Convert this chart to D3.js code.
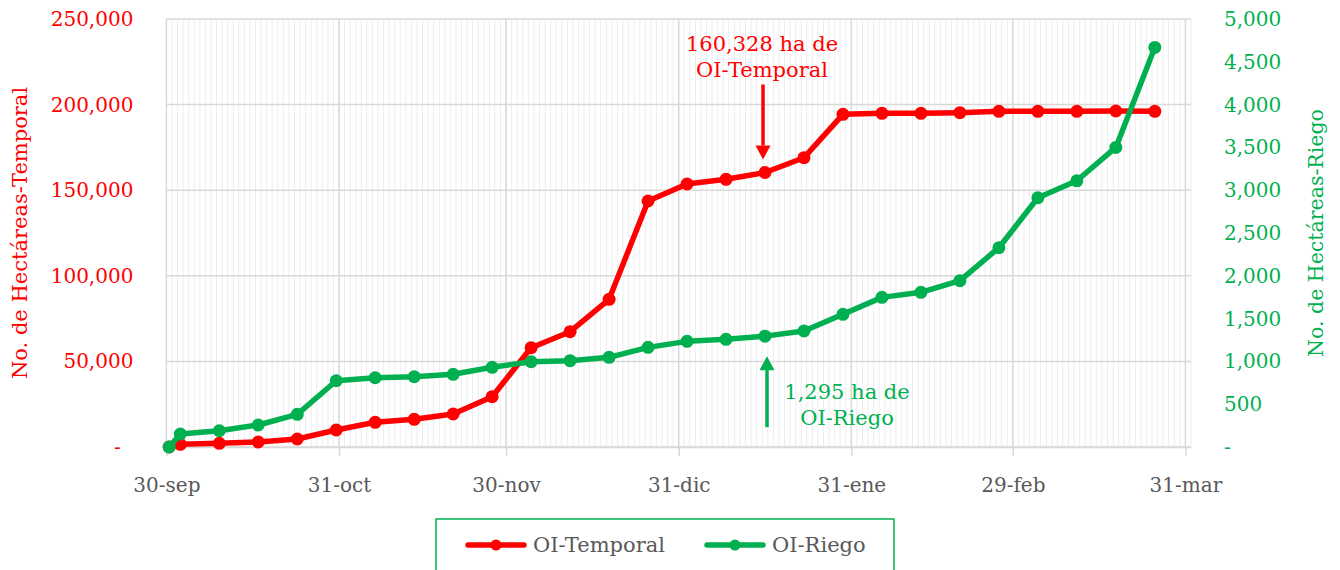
<!DOCTYPE html>
<html>
<head>
<meta charset="utf-8">
<script src="https://cdn.jsdelivr.net/npm/d3@7"></script>
<style>
  body { margin: 0; background: #fff; }
  svg { display: block; font-family: "DejaVu Serif", serif; }
</style>
</head>
<body>
<div id="chart"></div>
<script>
/*
    DATA
*/
let dates = ["2023-09-30", "2023-10-02", "2023-10-09", "2023-10-16", "2023-10-23", "2023-10-30",
    "2023-11-06", "2023-11-13", "2023-11-20", "2023-11-27", "2023-12-04", "2023-12-11",
    "2023-12-18", "2023-12-25", "2024-01-01", "2024-01-08", "2024-01-15", "2024-01-22",
    "2024-01-29", "2024-02-05", "2024-02-12", "2024-02-19", "2024-02-26", "2024-03-04",
    "2024-03-11", "2024-03-18", "2024-03-25"];
let temporal = [0, 1580, 2160, 2920, 4670, 9930, 14430, 16180, 19280, 29380, 58000, 67350,
    86270, 143690, 153620, 156360, 160328, 168980, 194330, 194910, 194910, 195260, 196070,
    196070, 196070, 196260, 196070];
let riego = [0, 152, 190, 257, 382, 774, 809, 821, 849, 931, 996, 1008, 1048, 1164, 1234,
    1258, 1295, 1355, 1550, 1748, 1807, 1943, 2328, 2912, 3110, 3500, 4668];

let tickDates = ["2023-09-30", "2023-10-31", "2023-11-30", "2023-12-31", "2024-01-31", "2024-02-29", "2024-03-31"];
let tickLabels = ["30-sep", "31-oct", "30-nov", "31-dic", "31-ene", "29-feb", "31-mar"];
let leftTicks = [0, 50000, 100000, 150000, 200000, 250000];
let rightTicks = [0, 500, 1000, 1500, 2000, 2500, 3000, 3500, 4000, 4500, 5000];

let seriesNames = ["OI-Temporal", "OI-Riego"];
let noteTemporal = ["160,328 ha de", "OI-Temporal"];
let noteRiego = ["1,295 ha de", "OI-Riego"];

/*
    CONSTANTS
*/
let SIZE = { width: 1340, height: 570 };
let PLOT = { left: 166.4, right: 1191, top: 19, bot: 447 };
let RED = "#ff0000";
let GREEN = "#00b050";
let GRID = "#d9d9d9";
let TEXT = "#595959";

let parse = d3.utcParse("%Y-%m-%d");
let domainStart = parse("2023-09-30");
let domainEnd = parse("2024-04-01");

let x = d3.scaleUtc().domain([domainStart, domainEnd]).range([PLOT.left, PLOT.right]);
let yL = d3.scaleLinear().domain([0, 250000]).range([PLOT.bot, PLOT.top]);
let yR = d3.scaleLinear().domain([0, 5000]).range([PLOT.bot, PLOT.top]);

// points sit in the middle of their day slot
let px = (d) => x(d3.utcHour.offset(parse(d), 12));

var svg = d3.select("#chart").append("svg")
    .attr("width", SIZE.width)
    .attr("height", SIZE.height);

/*
    GRID
*/
var days = d3.utcDay.range(domainStart, d3.utcDay.offset(domainEnd, 1));
svg.append("g").selectAll("line")
    .data(days)
    .enter().append("line")
    .attr("x1", (d) => x(d)).attr("x2", (d) => x(d))
    .attr("y1", PLOT.top).attr("y2", PLOT.bot)
    .attr("stroke", "#ededed")
    .attr("stroke-width", 1);

svg.append("g").selectAll("line")
    .data(leftTicks)
    .enter().append("line")
    .attr("x1", PLOT.left).attr("x2", PLOT.right)
    .attr("y1", (d) => yL(d)).attr("y2", (d) => yL(d))
    .attr("stroke", GRID)
    .attr("stroke-width", 1.5);

svg.append("g").selectAll("line")
    .data(tickDates)
    .enter().append("line")
    .attr("x1", (d) => x(parse(d))).attr("x2", (d) => x(parse(d)))
    .attr("y1", PLOT.top).attr("y2", PLOT.bot)
    .attr("stroke", GRID)
    .attr("stroke-width", 1.5);

/*
    AXES
*/
var xAxis = svg.append("g")
    .attr("transform", `translate(0, ${PLOT.bot})`)
    .call(d3.axisBottom(x)
        .tickValues(tickDates.map(parse))
        .tickFormat((d, i) => tickLabels[i])
        .tickSizeInner(9).tickSizeOuter(0)
        .tickPadding(22));
xAxis.attr("font-family", null).attr("font-size", null);
xAxis.select(".domain").attr("stroke", GRID).attr("stroke-width", 1.5);
xAxis.selectAll(".tick line").attr("stroke", GRID).attr("stroke-width", 1.5);
xAxis.selectAll("text").attr("fill", TEXT).style("font-size", "20px");

let fmt = (d) => d === 0 ? "-\u00a0\u00a0" : d3.format(",")(d);

var leftAxis = svg.append("g")
    .attr("transform", `translate(${PLOT.left}, 0)`)
    .call(d3.axisLeft(yL).tickValues(leftTicks).tickFormat(fmt).tickSize(0).tickPadding(33));
leftAxis.attr("font-family", null).attr("font-size", null);
leftAxis.select(".domain").remove();
leftAxis.selectAll("text").attr("fill", RED).style("font-size", "20px");

var rightAxis = svg.append("g")
    .attr("transform", `translate(${PLOT.right}, 0)`)
    .call(d3.axisRight(yR).tickValues(rightTicks)
        .tickFormat((d) => d === 0 ? "-" : d3.format(",")(d)).tickSize(0).tickPadding(33));
rightAxis.attr("font-family", null).attr("font-size", null);
rightAxis.select(".domain").remove();
rightAxis.selectAll("text").attr("fill", GREEN).style("font-size", "20px");

svg.append("text")
    .attr("transform", `translate(26.5, ${(PLOT.top + PLOT.bot) / 2}) rotate(-90)`)
    .attr("text-anchor", "middle")
    .attr("fill", RED)
    .style("font-size", "21px")
    .text("No. de Hectáreas-Temporal");

svg.append("text")
    .attr("transform", `translate(1323, ${(PLOT.top + PLOT.bot) / 2}) rotate(-90)`)
    .attr("text-anchor", "middle")
    .attr("fill", GREEN)
    .style("font-size", "20.5px")
    .text("No. de Hectáreas-Riego");

/*
    SERIES
*/
function drawSeries(values, scale, color) {
    var pts = dates.map((d, i) => [px(d), scale(values[i])]);
    svg.append("path")
        .attr("d", d3.line()(pts))
        .attr("fill", "none")
        .attr("stroke", color)
        .attr("stroke-width", 5.5)
        .attr("stroke-linejoin", "round");
    svg.append("g").selectAll("circle")
        .data(pts)
        .enter().append("circle")
        .attr("cx", (p) => p[0])
        .attr("cy", (p) => p[1])
        .attr("r", 6.5)
        .attr("fill", color);
}
drawSeries(temporal, yL, RED);
drawSeries(riego, yR, GREEN);

/*
    ANNOTATIONS
*/
function arrow(xPos, yFrom, yTip, color) {
    var dir = yTip > yFrom ? 1 : -1;
    var headLen = 14;
    svg.append("line")
        .attr("x1", xPos).attr("x2", xPos)
        .attr("y1", yFrom).attr("y2", yTip - dir * headLen)
        .attr("stroke", color)
        .attr("stroke-width", 3.5);
    svg.append("path")
        .attr("d", `M${xPos - 7.5},${yTip - dir * headLen} L${xPos + 7.5},${yTip - dir * headLen} L${xPos},${yTip} Z`)
        .attr("fill", color);
}

// temporal note sits above its point
var tIdx = temporal.indexOf(160328);
var tX = px(dates[tIdx]) - 2;
var tTip = yL(temporal[tIdx]) - 13;
arrow(tX, tTip - 75, tTip, RED);
svg.append("g").selectAll("text")
    .data(noteTemporal)
    .enter().append("text")
    .attr("x", tX - 1)
    .attr("y", (d, i) => tTip - 109 + i * 26)
    .attr("text-anchor", "middle")
    .attr("fill", RED)
    .style("font-size", "21px")
    .text((d) => d);

// riego note sits below its point
var rIdx = riego.indexOf(1295);
var rX = px(dates[rIdx]) + 2;
var rTip = yR(riego[rIdx]) + 20;
arrow(rX, rTip + 71, rTip, GREEN);
svg.append("g").selectAll("text")
    .data(noteRiego)
    .enter().append("text")
    .attr("x", rX + 80)
    .attr("y", (d, i) => rTip + 43 + i * 26)
    .attr("text-anchor", "middle")
    .attr("fill", GREEN)
    .style("font-size", "21px")
    .text((d) => d);

/*
    LEGEND
*/
svg.append("rect")
    .attr("x", 436).attr("y", 519)
    .attr("width", 458).attr("height", 70)
    .attr("fill", "none")
    .attr("stroke", GREEN)
    .attr("stroke-width", 1.5);

var legendX = [468, 707];
var legendColors = [RED, GREEN];
var legend = svg.append("g").selectAll("g")
    .data(seriesNames)
    .enter().append("g")
    .attr("transform", (d, i) => `translate(${legendX[i]}, 545)`);
legend.append("line")
    .attr("x1", 0).attr("x2", 56)
    .attr("stroke", (d, i) => legendColors[i])
    .attr("stroke-width", 5.5)
    .attr("stroke-linecap", "round");
legend.append("circle")
    .attr("cx", 28)
    .attr("r", 5.5)
    .attr("fill", (d, i) => legendColors[i]);
legend.append("text")
    .attr("x", 65)
    .attr("y", 7)
    .attr("fill", TEXT)
    .style("font-size", "21px")
    .text((d) => d);
</script>
</body>
</html>
